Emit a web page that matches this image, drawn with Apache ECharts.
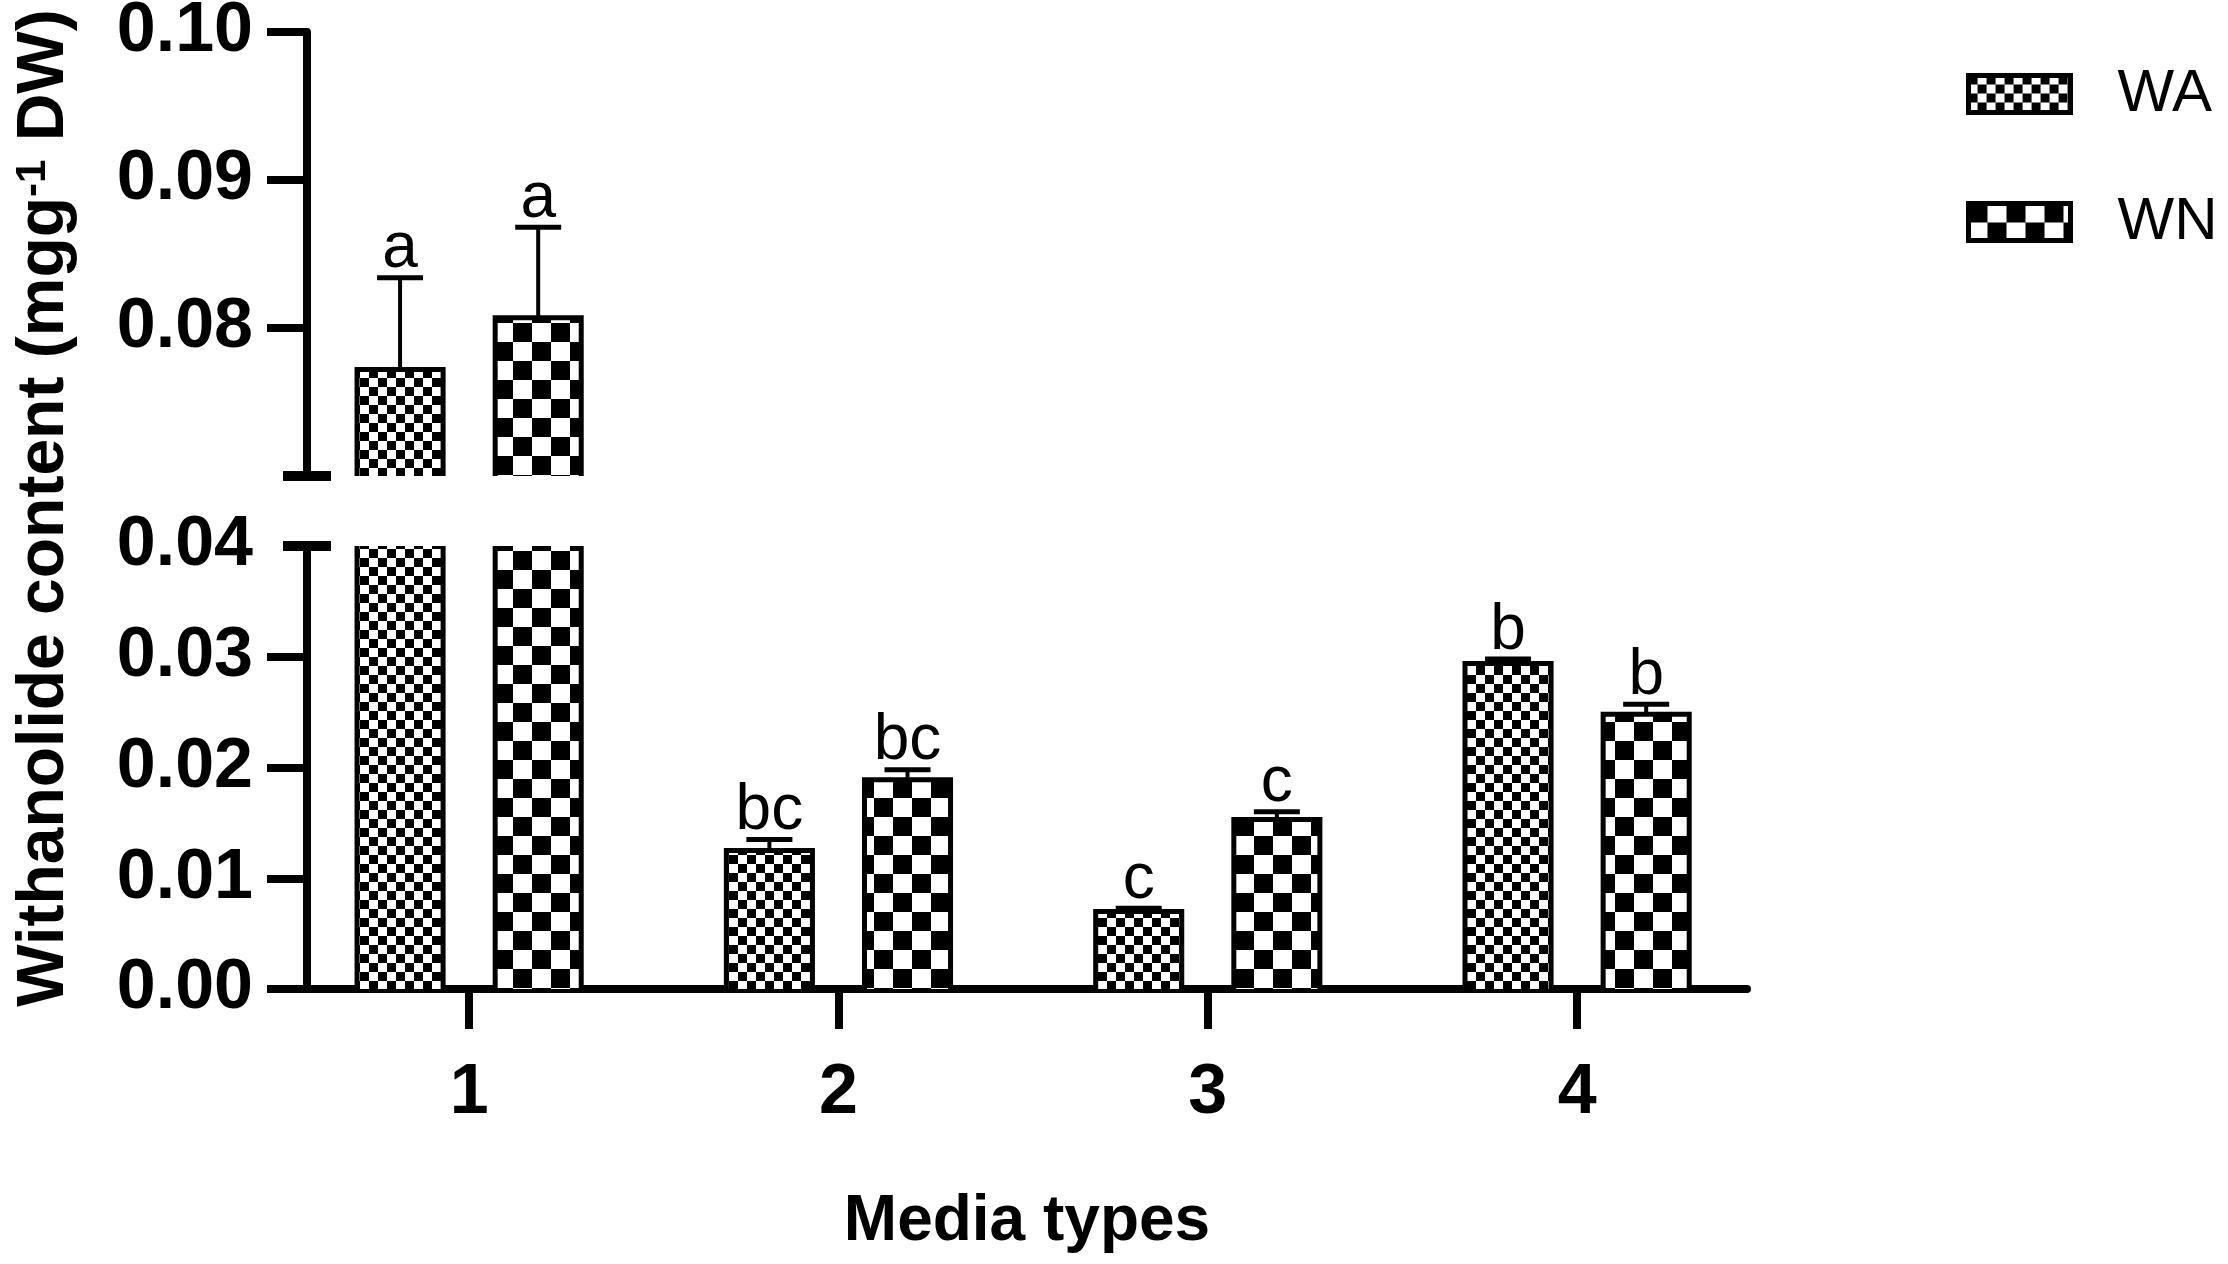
<!DOCTYPE html>
<html>
<head>
<meta charset="utf-8">
<title>Withanolide content</title>
<script src="https://cdn.jsdelivr.net/npm/echarts@6/dist/echarts.min.js"></script>
<style>
  html, body { margin: 0; padding: 0; background: #fff; }
  #main { width: 2228px; height: 1264px; }
</style>
</head>
<body>
<div id="main"></div>
<script>
// data
var categories = ['1', '2', '3', '4'];
var waMean = [0.0772, 0.0125, 0.0070, 0.0294];
var waErr = [0.0062, 0.0010, 0.0003, 0.0004];
var wnMean = [0.0807, 0.0189, 0.0153, 0.0248];
var wnErr = [0.0061, 0.0009, 0.0007, 0.0009];
var waLetters = ['a', 'bc', 'c', 'b'];
var wnLetters = ['a', 'bc', 'c', 'b'];
var lowerTicks = [0, 0.01, 0.02, 0.03, 0.04];
var upperTicks = [0.08, 0.09, 0.10];

// broken y axis: two segments
var lowerSeg = { min: 0, max: 0.04 };
var upperSeg = { min: 0.07, max: 0.10 };
var X_MIN = 0.561, X_MAX = 4.46;
var BAR_OFFSET = 0.187, BAR_HALF = 0.1165;
var FONT = '"Liberation Sans", Arial, Helvetica, sans-serif';

function checker(size) {
  var c = document.createElement('canvas');
  c.width = c.height = size * 2;
  var ctx = c.getContext('2d');
  ctx.fillStyle = '#fff';
  ctx.fillRect(0, 0, size * 2, size * 2);
  ctx.fillStyle = '#000';
  ctx.fillRect(0, 0, size, size);
  ctx.fillRect(size, size, size, size);
  return c;
}
var waFill = { image: checker(9), repeat: 'repeat' };
var wnFill = { image: checker(19), repeat: 'repeat' };

function barRenderer(means, errs, letters, fill, side, seg) {
  return function (params, api) {
    var i = params.dataIndex;
    var v = means[i], e = errs[i];
    if (v <= seg.min) return null;
    var x = api.value(0);
    var unit = api.size([1, 0])[0];
    var cx = api.coord([x, 0])[0] + side * BAR_OFFSET * unit;
    var half = BAR_HALF * unit;
    var l = cx - half, r = cx + half;
    var clipped = v > seg.max;
    var yBase = api.coord([x, seg.min])[1];
    var yTop = api.coord([x, Math.min(v, seg.max)])[1];
    var line = { stroke: '#000', lineWidth: 5, fill: null };
    var children = [{
      type: 'rect',
      shape: { x: l, y: yTop, width: r - l, height: yBase - yTop },
      style: { fill: fill }
    }];
    if (clipped) {
      children.push({ type: 'line', shape: { x1: l, y1: yBase, x2: l, y2: yTop }, style: line });
      children.push({ type: 'line', shape: { x1: r, y1: yBase, x2: r, y2: yTop }, style: line });
    } else {
      children.push({ type: 'polyline', shape: { points: [[l, yBase], [l, yTop], [r, yTop], [r, yBase]] }, style: line });
      var yErr = api.coord([x, v + e])[1];
      children.push({ type: 'line', shape: { x1: cx, y1: yTop, x2: cx, y2: yErr }, style: { stroke: '#000', lineWidth: 4 } });
      children.push({ type: 'line', shape: { x1: cx - 23, y1: yErr, x2: cx + 23, y2: yErr }, style: { stroke: '#000', lineWidth: 5 } });
      children.push({
        type: 'text',
        style: {
          text: letters[i], x: cx, y: yErr + 4,
          fontSize: 64, fontFamily: FONT, fill: '#000',
          align: 'center', verticalAlign: 'bottom',
          textAlign: 'center', textVerticalAlign: 'bottom'
        }
      });
    }
    return { type: 'group', children: children };
  };
}

function breakRenderer(params, api) {
  var p = api.coord([api.value(0), api.value(1)]);
  return {
    type: 'line',
    shape: { x1: p[0] - 24, y1: p[1], x2: p[0] + 24, y2: p[1] },
    style: { stroke: '#000', lineWidth: 10 }
  };
}

var pts = categories.map(function (c, i) { return [i + 1, 0]; });

function barSeries(name, means, errs, letters, fill, side, seg, idx) {
  return {
    name: name,
    type: 'custom',
    xAxisIndex: idx,
    yAxisIndex: idx,
    clip: false,
    itemStyle: { color: fill, borderColor: '#000', borderWidth: 5 },
    renderItem: barRenderer(means, errs, letters, fill, side, seg),
    data: pts
  };
}

var tickLabel = { fontSize: 70, fontWeight: 'bold', fontFamily: FONT, color: '#000' };

function yAxis(idx, seg, tickVals, labelVals) {
  return {
    gridIndex: idx,
    type: 'value',
    min: seg.min,
    max: seg.max,
    axisLine: { show: true, onZero: false, lineStyle: { color: '#000', width: 8 } },
    axisTick: { show: true, length: 40, customValues: tickVals, lineStyle: { color: '#000', width: 8 } },
    axisLabel: Object.assign({ margin: 54, customValues: labelVals, formatter: function (v) { return v.toFixed(2); } }, tickLabel),
    splitLine: { show: false }
  };
}

var chart = echarts.init(document.getElementById('main'));
chart.setOption({
  animation: false,
  backgroundColor: '#fff',
  grid: [
    { left: 307, right: 481, top: 546, bottom: 275, outerBoundsMode: 'none' },
    { left: 307, right: 481, top: 32, bottom: 788, outerBoundsMode: 'none' }
  ],
  xAxis: [
    {
      gridIndex: 0,
      type: 'value',
      min: X_MIN,
      max: X_MAX,
      axisLine: { show: true, onZero: false, lineStyle: { color: '#000', width: 8 } },
      axisTick: { show: true, length: 40, customValues: [1, 2, 3, 4], lineStyle: { color: '#000', width: 8 } },
      axisLabel: Object.assign({ margin: 70, customValues: [1, 2, 3, 4], formatter: function (v) { return categories[Math.round(v) - 1]; } }, tickLabel),
      splitLine: { show: false },
      name: 'Media types',
      nameLocation: 'middle',
      nameGap: 201,
      nameTextStyle: { fontSize: 64, fontWeight: 'bold', fontFamily: FONT, color: '#000' }
    },
    { gridIndex: 1, type: 'value', min: X_MIN, max: X_MAX, show: false }
  ],
  yAxis: [
    yAxis(0, lowerSeg, [0, 0.01, 0.02, 0.03], lowerTicks),
    yAxis(1, upperSeg, upperTicks, upperTicks)
  ],
  legend: {
    orient: 'vertical',
    left: 1961,
    top: 59,
    itemWidth: 102,
    itemHeight: 37,
    itemGap: 68,
    selectedMode: false,
    textStyle: { fontSize: 60, fontFamily: FONT, color: '#000', padding: [0, 0, 0, 42] },
    data: [
      { name: 'WA', icon: 'rect', itemStyle: { color: waFill, borderColor: '#000', borderWidth: 5 } },
      { name: 'WN', icon: 'rect', itemStyle: { color: wnFill, borderColor: '#000', borderWidth: 5 } }
    ]
  },
  graphic: [{
    type: 'text',
    x: 45,
    y: 508,
    rotation: Math.PI / 2,
    style: {
      text: 'Withanolide content (mgg{sup|-1} DW)',
      fontSize: 66, fontWeight: 'bold', fontFamily: FONT, fill: '#000',
      align: 'center', verticalAlign: 'middle',
      textAlign: 'center', textVerticalAlign: 'middle',
      rich: { sup: { fontSize: 42, fontWeight: 'bold', fontFamily: FONT, fill: '#000', verticalAlign: 'top' } }
    }
  }],
  series: [
    barSeries('WA', waMean, waErr, waLetters, waFill, -1, lowerSeg, 0),
    barSeries('WN', wnMean, wnErr, wnLetters, wnFill, 1, lowerSeg, 0),
    barSeries('WA', waMean, waErr, waLetters, waFill, -1, upperSeg, 1),
    barSeries('WN', wnMean, wnErr, wnLetters, wnFill, 1, upperSeg, 1),
    { type: 'custom', xAxisIndex: 0, yAxisIndex: 0, clip: false, silent: true, renderItem: breakRenderer, data: [[X_MIN, lowerSeg.max]] },
    { type: 'custom', xAxisIndex: 1, yAxisIndex: 1, clip: false, silent: true, renderItem: breakRenderer, data: [[X_MIN, upperSeg.min]] }
  ]
});
</script>
</body>
</html>
